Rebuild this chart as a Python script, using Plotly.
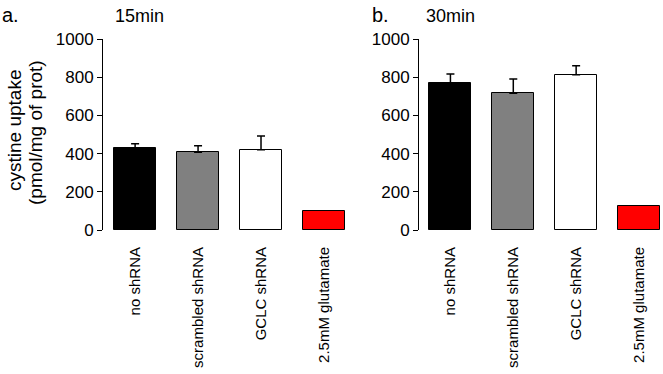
import plotly.graph_objects as go

categories = ["no shRNA", "scrambled shRNA", "GCLC shRNA", "2.5mM glutamate"]
vals_15 = [428, 407, 420, 98]
err_15 = [23, 34, 72, None]
vals_30 = [771, 716, 813, 124]
err_30 = [46, 75, 47, None]
colors = ["#000000", "#808080", "#ffffff", "#ff0000"]
yticks = [0, 200, 400, 600, 800, 1000]

FONT = "Liberation Sans, Arial, sans-serif"
W, H = 663, 374

fig = go.Figure()
for vals, errs, ax in [(vals_15, err_15, "x"), (vals_30, err_30, "x2")]:
    idx = list(range(len(categories)))
    fig.add_trace(go.Bar(
        x=idx, y=vals,
        marker=dict(color=colors, line=dict(color="#000000", width=1)),
        width=0.67,
        xaxis=ax, yaxis="y" if ax == "x" else "y2",
        showlegend=False, hoverinfo="skip",
    ))
    ei = [i for i in idx if errs[i] is not None]
    fig.add_trace(go.Scatter(
        x=ei, y=[vals[i] for i in ei], mode="markers",
        marker=dict(size=1, color="rgba(0,0,0,0)"),
        error_y=dict(type="data", array=[errs[i] for i in ei], arrayminus=[0]*len(ei),
                     symmetric=False, color="#000000", thickness=1.5, width=4, visible=True),
        xaxis=ax, yaxis="y" if ax == "x" else "y2",
        showlegend=False, hoverinfo="skip",
    ))

ydom = [(H - 230) / H, (H - 39) / H]
xcommon = dict(tickmode="array", tickvals=list(range(len(categories))), ticktext=categories,
               tickangle=-90, ticks="outside", ticklen=10, tickcolor="rgba(0,0,0,0)",
               showline=False, showgrid=False, zeroline=False, automargin=False,
               tickfont=dict(family=FONT, size=15, color="#000000"), fixedrange=True)
ycommon = dict(range=[0, 1000], tickvals=yticks, ticks="outside", ticklen=5, tickwidth=1,
               tickcolor="#000000", showline=True, linecolor="#000000", linewidth=1,
               showgrid=False, zeroline=False, automargin=False, domain=ydom,
               tickfont=dict(family=FONT, size=17, color="#000000"))

fig.update_layout(
    width=W, height=H,
    margin=dict(l=0, r=0, t=0, b=0),
    paper_bgcolor="white", plot_bgcolor="white",
    bargap=0,
    xaxis=dict(domain=[103 / W, 346 / W], range=[-0.51, 3.35], anchor="y", **xcommon),
    xaxis2=dict(domain=[419 / W, 661 / W], range=[-0.5, 3.35], anchor="y2", **xcommon),
    yaxis=dict(anchor="x", **ycommon),
    yaxis2=dict(anchor="x2", **ycommon),
    annotations=[
        dict(text="a.", x=0, y=15, showarrow=False,
             xanchor="left", yanchor="middle", font=dict(family=FONT, size=20, color="#000000")),
        dict(text="15min", x=113, y=16, showarrow=False,
             xanchor="left", yanchor="middle", font=dict(family=FONT, size=18, color="#000000")),
        dict(text="b.", x=370, y=15, showarrow=False,
             xanchor="left", yanchor="middle", font=dict(family=FONT, size=20, color="#000000")),
        dict(text="30min", x=424, y=16, showarrow=False,
             xanchor="left", yanchor="middle", font=dict(family=FONT, size=18, color="#000000")),
        dict(text="cystine uptake", x=14, y=131, showarrow=False, textangle=-90,
             xanchor="center", yanchor="middle", font=dict(family=FONT, size=19, color="#000000")),
        dict(text="(pmol/mg of prot)", x=35, y=133, showarrow=False, textangle=-90,
             xanchor="center", yanchor="middle", font=dict(family=FONT, size=19, color="#000000")),
    ],
)
# convert pixel coordinates of annotations to paper coordinates
for a in fig.layout.annotations:
    px, py = a.x, a.y
    a.xref = "paper"; a.yref = "paper"
    a.x = px / W
    a.y = 1 - py / H

fig.write_html("out.html", config={"displayModeBar": False},
               post_script="document.body.style.margin='0';document.body.style.overflow='hidden';")
